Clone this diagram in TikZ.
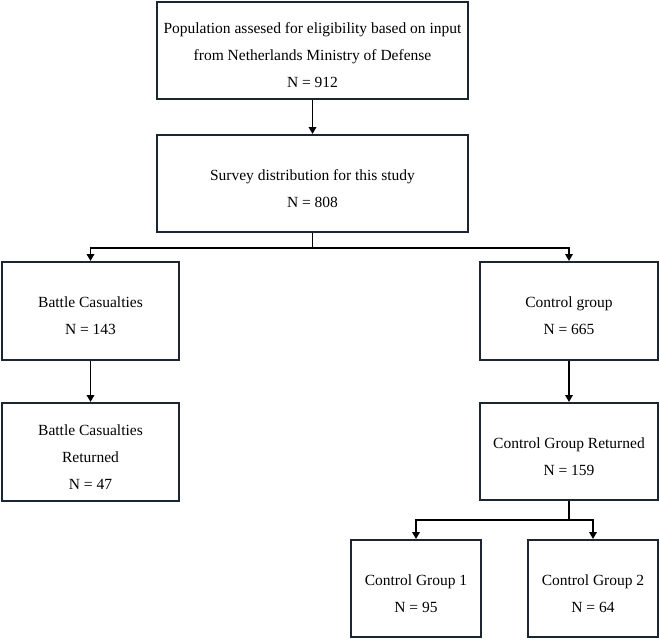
\documentclass[tikz,border=0pt]{standalone}
\usepackage{fontspec}
\setmainfont{Liberation Serif}
\usetikzlibrary{arrows.meta}
\definecolor{boxc}{HTML}{1C2633}
\begin{document}
\begin{tikzpicture}[x=1pt,y=-1pt,
 box/.style={draw=boxc,line width=2pt,inner sep=0pt,anchor=center},
 txt/.style={align=center,font=\fontsize{15.5}{27}\selectfont,inner sep=0pt,anchor=center,yshift=-5pt},
 arr/.style={line width=1.9pt,-{Triangle[length=7pt,width=7.5pt]}},
 ln/.style={line width=1.9pt}]
\useasboundingbox (0,0) rectangle (660,640);
\node[box,minimum width=311pt,minimum height=97pt] (b1) at (312.5,50.5) {};
\node[box,minimum width=311pt,minimum height=97pt] (b2) at (312.5,183.5) {};
\node[box,minimum width=177pt,minimum height=98pt] (b3) at (90.5,311) {};
\node[box,minimum width=178pt,minimum height=98pt] (b4) at (569,311) {};
\node[box,minimum width=177pt,minimum height=98pt] (b5) at (90.5,452) {};
\node[box,minimum width=178pt,minimum height=97pt] (b6) at (569,451.5) {};
\node[box,minimum width=130pt,minimum height=97pt] (b7) at (416,588.5) {};
\node[box,minimum width=130pt,minimum height=97pt] (b8) at (593,588.5) {};
\node[txt] (t1) at (b1) {Population assesed for eligibility based on input\\from Netherlands Ministry of Defense\\N = 912};
\node[txt] (t2) at (b2) {Survey distribution for this study\\N = 808};
\node[txt] (t3) at (b3) {Battle Casualties\\N = 143};
\node[txt] (t4) at (b4) {Control group\\N = 665};
\node[txt] (t5) at (b5) {Battle Casualties\\Returned\\N = 47};
\node[txt] (t6) at (b6) {Control Group Returned\\N = 159};
\node[txt] (t7) at (b7) {Control Group 1\\N = 95};
\node[txt] (t8) at (b8) {Control Group 2\\N = 64};
\coordinate (j1) at (312.5,248);
\coordinate (j2) at (569,520);
\draw[arr] (b1) -- (b2);
\draw[ln] (b2.south) -- (j1);
\draw[arr] (j1) -| (b3.north);
\draw[arr] (j1) -| (b4.north);
\draw[arr] (b3) -- (b5);
\draw[arr] (b4) -- (b6);
\draw[ln] (b6.south) -- (j2);
\draw[arr] (j2) -| (b7.north);
\draw[arr] (j2) -| (b8.north);
\end{tikzpicture}
\end{document}
